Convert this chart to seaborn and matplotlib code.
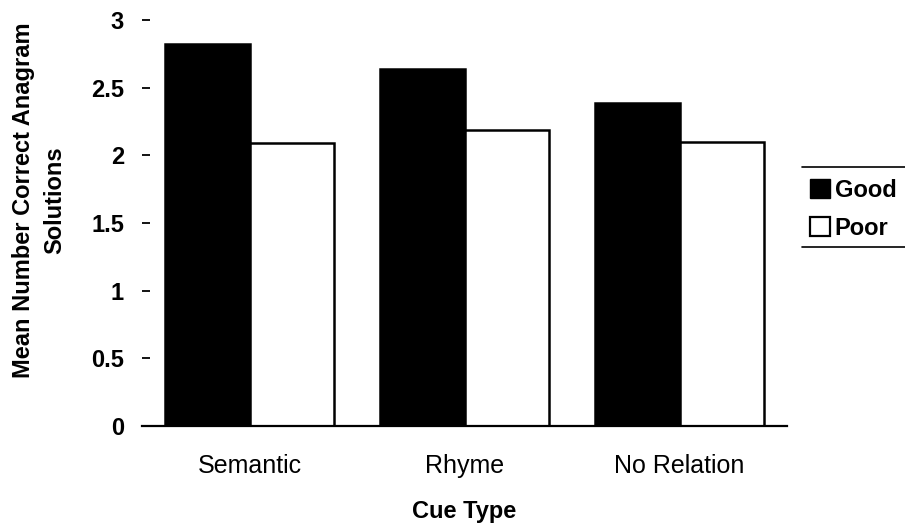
import matplotlib
matplotlib.use("Agg")
import matplotlib.pyplot as plt
import seaborn as sns
import pandas as pd
from matplotlib.patches import Patch
from matplotlib.lines import Line2D

categories = ["Semantic", "Rhyme", "No Relation"]
good = [2.82, 2.64, 2.39]
poor = [2.09, 2.19, 2.10]
series = ["Good", "Poor"]
yticks = [0, 0.5, 1, 1.5, 2, 2.5, 3]
ytick_labels = ["0", "0.5", "1", "1.5", "2", "2.5", "3"]

df = pd.DataFrame({
    "Cue Type": categories * 2,
    "value": good + poor,
    "quality": [series[0]] * 3 + [series[1]] * 3,
})

sns.set_theme(style="white")
plt.rcParams["font.family"] = ["Liberation Sans", "DejaVu Sans"]
for k in ["text.color", "axes.labelcolor", "xtick.color", "ytick.color"]:
    plt.rcParams[k] = "black"

fig = plt.figure(figsize=(9.05, 5.30), dpi=100)
ax = fig.add_axes([142 / 905, 1 - 426 / 530, 645 / 905, 406 / 530])

sns.barplot(data=df, x="Cue Type", y="value", hue="quality",
            palette=["black", "white"], edgecolor="black", linewidth=1.8,
            width=0.79, saturation=1, ax=ax, legend=False)

ax.set_ylim(0, 3)
ax.set_xlim(-0.5, 2.5)
ax.set_yticks(yticks)
ax.set_yticklabels(ytick_labels, fontsize=17, fontweight="bold")
ax.tick_params(axis="y", which="both", left=True, direction="in", length=6,
               width=1.3, color="black", pad=13)
ax.tick_params(axis="x", bottom=False, pad=14)
for lab in ax.get_xticklabels():
    lab.set_fontsize(18)
for s in ["top", "right", "left"]:
    ax.spines[s].set_visible(False)
ax.spines["bottom"].set_color("black")
ax.spines["bottom"].set_linewidth(1.6)

ax.set_xlabel("Cue Type", fontsize=17, fontweight="bold", labelpad=16)
ax.set_ylabel("Mean Number Correct Anagram\nSolutions", fontsize=17,
              fontweight="bold", linespacing=1.45)
ax.yaxis.set_label_coords(-0.118, 0.557)

handles = [Patch(facecolor="black", edgecolor="black", label="Good"),
           Patch(facecolor="white", edgecolor="black", linewidth=1.6, label="Poor")]
fig.legend(handles=handles, loc="upper left", bbox_to_anchor=(792 / 905, 1 - 161 / 530),
           frameon=False, handlelength=0.85, handleheight=0.85,
           handletextpad=0.2, labelspacing=0.65, borderpad=0.25,
           prop={"weight": "bold", "size": 17})
fig.lines.append(Line2D([802 / 905, 1.0], [1 - 167 / 530, 1 - 167 / 530],
                        transform=fig.transFigure, color="black", lw=1.2))
fig.lines.append(Line2D([802 / 905, 1.0], [1 - 247 / 530, 1 - 247 / 530],
                        transform=fig.transFigure, color="black", lw=1.2))

fig.savefig("out.png", dpi=100)
